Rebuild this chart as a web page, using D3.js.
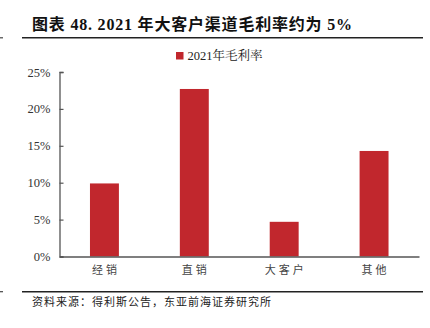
<!DOCTYPE html>
<html>
<head>
<meta charset="utf-8">
<script src="https://cdn.jsdelivr.net/npm/d3@7"></script>
<style>
  html, body { margin: 0; padding: 0; background: #fff; }
  svg { display: block; }
</style>
</head>
<body>
<script>
// Gross margin by sales channel, 2021
const categories = ["经销", "直销", "大客户", "其他"];
const margin2021 = [0.099, 0.227, 0.047, 0.143];
const yTicks = [0, 0.05, 0.10, 0.15, 0.20, 0.25];
const seriesName = "2021年毛利率";
const titleText = "图表 48. 2021 年大客户渠道毛利率约为 5%";
const sourceText = "资料来源：得利斯公告，东亚前海证券研究所";

const W = 430, H = 328;
const plot = { left: 59.5, right: 419, top: 72, bottom: 256.5 };
const barColor = "#C1272D";
const serif = "'Liberation Serif', 'Noto Serif CJK SC', 'Noto Sans CJK SC', serif";
const cjk = "'Noto Sans CJK SC', sans-serif";

const svg = d3.select("body").append("svg").attr("width", W).attr("height", H);

// Title block with rule underneath
svg.append("text")
  .attr("x", 32).attr("y", 30)
  .attr("font-family", "'Liberation Serif', 'Noto Sans CJK SC', serif")
  .attr("font-weight", "bold").attr("font-size", 16)
  .attr("letter-spacing", 0.8)
  .attr("fill", "#111")
  .text(titleText);
svg.append("line").attr("x1", 22).attr("x2", 423).attr("y1", 37.8).attr("y2", 37.8)
  .attr("stroke", "#222").attr("stroke-width", 1.6);
svg.append("line").attr("x1", 0).attr("x2", 3).attr("y1", 37.8).attr("y2", 37.8)
  .attr("stroke", "#444").attr("stroke-width", 1.2);

// Scales
const x = d3.scaleBand().domain(categories)
  .range([plot.left, plot.right])
  .paddingInner(0.678).paddingOuter(0.339);
const y = d3.scaleLinear().domain([0, 0.25]).range([plot.bottom, plot.top]);

// Legend
const lg = svg.append("g").attr("transform", "translate(176,52)");
lg.append("rect").attr("width", 7.5).attr("height", 7.5).attr("fill", barColor);
lg.append("text").attr("x", 11.5).attr("y", 8)
  .attr("font-family", serif).attr("font-size", 12.5).attr("fill", "#222")
  .text(seriesName);

// Bars
svg.append("g").selectAll("rect").data(categories).join("rect")
  .attr("x", d => x(d))
  .attr("width", x.bandwidth())
  .attr("y", (d, i) => y(margin2021[i]))
  .attr("height", (d, i) => y(0) - y(margin2021[i]))
  .attr("fill", barColor);

// Y axis: ticks point into the plot
const yAxis = d3.axisRight(y).tickValues(yTicks).tickSize(4).tickFormat(d3.format(".0%"));
const yg = svg.append("g").attr("transform", `translate(${plot.left},0)`).call(yAxis);
yg.select(".domain").attr("stroke", "#555").attr("stroke-width", 1.3);
yg.selectAll(".tick line").attr("stroke", "#555").attr("stroke-width", 1.2);
yg.selectAll(".tick text")
  .attr("x", -9).attr("text-anchor", "end")
  .attr("font-family", serif).attr("font-size", 12.5).attr("fill", "#333");

// X axis
const xAxis = d3.axisBottom(x).tickSize(0).tickPadding(10);
const xg = svg.append("g").attr("transform", `translate(0,${plot.bottom})`).call(xAxis);
xg.select(".domain").attr("stroke", "#555").attr("stroke-width", 1.3);
xg.selectAll(".tick text")
  .attr("font-family", cjk).attr("font-size", 11).attr("fill", "#444")
  .attr("letter-spacing", 3).attr("dx", 1.5);

// Source note with rule above
svg.append("line").attr("x1", 22).attr("x2", 423).attr("y1", 291.7).attr("y2", 291.7)
  .attr("stroke", "#222").attr("stroke-width", 1.4);
svg.append("line").attr("x1", 0).attr("x2", 3).attr("y1", 291.7).attr("y2", 291.7)
  .attr("stroke", "#444").attr("stroke-width", 1.2);
svg.append("text")
  .attr("x", 32).attr("y", 306)
  .attr("font-family", cjk).attr("font-size", 11).attr("fill", "#222")
  .attr("letter-spacing", 1)
  .text(sourceText);
</script>
</body>
</html>
